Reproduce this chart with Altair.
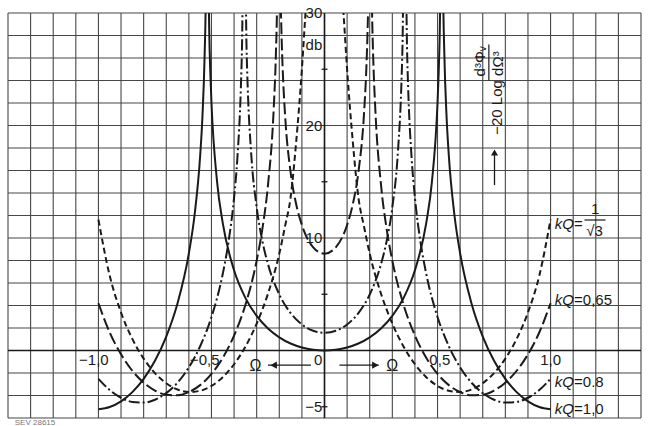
import altair as alt
import pandas as pd

# Normalised detuning Ω and -20·log|d³Φv/dΩ³| in dB, one pair of lists per kQ
omega_kq_10 = [-1.0, -0.95, -0.9, -0.85, -0.8, -0.75, -0.7, -0.65, -0.6, -0.575, -0.55, -0.54,
               -0.53, -0.525, -0.52, -0.515, -0.51, -0.505, -0.5, -0.475, -0.45, -0.4, -0.35,
               -0.3, -0.25, -0.2, -0.15, -0.1, -0.05, 0.0, 0.05, 0.1, 0.15, 0.2, 0.25, 0.3,
               0.35, 0.4, 0.45, 0.475, 0.5, 0.505, 0.51, 0.515, 0.52, 0.525, 0.53, 0.54, 0.55,
               0.575, 0.6, 0.65, 0.7, 0.75, 0.8, 0.85, 0.9, 0.95, 1.0]
db_kq_10 = [-5.22, -5.02, -4.52, -3.7, -2.52, -0.91, 1.24, 4.2, 8.63, 12.0, 17.31, 20.76,
            26.44, 31.69, 46.8, 35.57, 28.49, 24.67, 22.05, 14.97, 11.32, 7.13, 4.68,
            3.07, 1.95, 1.17, 0.62, 0.27, 0.07, 0.0, 0.07, 0.27, 0.62, 1.17, 1.95, 3.07,
            4.68, 7.13, 11.32, 14.97, 22.05, 24.67, 28.49, 35.57, 46.8, 31.69, 26.44, 20.76, 17.31,
            12.0, 8.63, 4.2, 1.24, -0.91, -2.52, -3.7, -4.52, -5.02, -5.22]

omega_kq_08 = [-1.0, -0.95, -0.9, -0.85, -0.8, -0.75, -0.7, -0.65, -0.6, -0.55, -0.5, -0.45,
               -0.425, -0.4, -0.385, -0.37, -0.365, -0.36, -0.35, -0.345, -0.34, -0.325, -0.3,
               -0.275, -0.25, -0.2, -0.15, -0.1, -0.05, 0.0, 0.05, 0.1, 0.15, 0.2, 0.25, 0.275,
               0.3, 0.325, 0.34, 0.345, 0.35, 0.36, 0.365, 0.37, 0.385, 0.4, 0.425, 0.45, 0.5,
               0.55, 0.6, 0.65, 0.7, 0.75, 0.8, 0.85, 0.9, 0.95, 1.0]
db_kq_08 = [-2.52, -3.52, -4.2, -4.57, -4.63, -4.38, -3.79, -2.86, -1.5, 0.38, 2.98, 6.82,
            9.6, 13.59, 17.22, 23.36, 26.92, 33.0, 33.04, 27.07, 23.6, 17.72, 12.72,
            9.74, 7.68, 4.98, 3.33, 2.31, 1.75, 1.57, 1.75, 2.31, 3.33, 4.98, 7.68, 9.74,
            12.72, 17.72, 23.6, 27.07, 33.04, 33.0, 26.92, 23.36, 17.22, 13.59, 9.6, 6.82, 2.98,
            0.38, -1.5, -2.86, -3.79, -4.38, -4.63, -4.57, -4.2, -3.52, -2.52]

omega_kq_065 = [-1.0, -0.95, -0.9, -0.85, -0.8, -0.75, -0.7, -0.65, -0.6, -0.55, -0.5, -0.45,
                -0.4, -0.35, -0.3, -0.275, -0.25, -0.225, -0.215, -0.21, -0.205, -0.2, -0.195,
                -0.19, -0.185, -0.175, -0.15, -0.125, -0.1, -0.05, 0.0, 0.05, 0.1, 0.125, 0.15,
                0.175, 0.185, 0.19, 0.195, 0.2, 0.205, 0.21, 0.215, 0.225, 0.25, 0.275, 0.3,
                0.35, 0.4, 0.45, 0.5, 0.55, 0.6, 0.65, 0.7, 0.75, 0.8, 0.85, 0.9, 0.95, 1.0]
db_kq_065 = [4.2, 1.6, -0.34, -1.8, -2.86, -3.56, -3.93, -3.98, -3.7, -3.08, -2.08, -0.65,
             1.33, 4.05, 7.99, 10.79, 14.71, 21.36, 26.34, 30.46, 38.33, 45.3, 32.91,
             28.07, 25.03, 21.12, 15.86, 12.98, 11.16, 9.17, 8.6, 9.17, 11.16, 12.98, 15.86,
             21.12, 25.03, 28.07, 32.91, 45.3, 38.33, 30.46, 26.34, 21.36, 14.71, 10.79, 7.99,
             4.05, 1.33, -0.65, -2.08, -3.08, -3.7, -3.98, -3.93, -3.56, -2.86, -1.8, -0.34, 1.6, 4.2]

omega_kq_r3 = [-1.0, -0.95, -0.9, -0.85, -0.8, -0.75, -0.7, -0.65, -0.6, -0.55, -0.5, -0.45,
               -0.4, -0.35, -0.3, -0.25, -0.2, -0.175, -0.15, -0.125, -0.1, -0.085, -0.07,
               0.07, 0.085, 0.1, 0.125, 0.15, 0.175, 0.2, 0.25, 0.3, 0.35,
               0.4, 0.45, 0.5, 0.55, 0.6, 0.65, 0.7, 0.75, 0.8, 0.85, 0.9, 0.95, 1.0]
db_kq_r3 = [11.63, 6.64, 3.38, 1.03, -0.72, -2.01, -2.91, -3.47, -3.69, -3.58, -3.15, -2.37,
            -1.22, 0.34, 2.39, 5.05, 8.6, 11.0, 13.6, 18.6, 25.0, 29.7, 34.0,
            34.0, 29.7, 25.0, 18.6, 13.6, 11.0, 8.6, 5.05, 2.39, 0.34,
            -1.22, -2.37, -3.15, -3.58, -3.69, -3.47, -2.91, -2.01, -0.72, 1.03, 3.38, 6.64, 11.63]

# Tick labels on the two central axes
x_tick_values = [-1.0, -0.5, 0.5, 1.0]
x_tick_labels = ["−1,0", "−0,5", "0,5", "1,0"]
y_tick_values = [30, 20, 10, -5]
y_tick_labels = ["30", "20", "10", "−5"]

INK = "#1a1a1a"
GRID = "#474747"
FONT = "Liberation Sans"

xs = alt.Scale(domain=[-1.4, 1.4], nice=False, zero=False)
ys = alt.Scale(domain=[-6, 30], nice=False, zero=False)


def X(field):
    return alt.X(field, type="quantitative", scale=xs, axis=None)


def Y(field):
    return alt.Y(field, type="quantitative", scale=ys, axis=None)


# Millimetre-paper style grid: 0.1 in Ω, 2 dB vertically
grid_x = pd.DataFrame({"v": [round(i / 10, 1) for i in range(-14, 15)]})
grid_y = pd.DataFrame({"v": list(range(-6, 31, 2))})
layers = [
    alt.Chart(grid_x).mark_rule(color=GRID, strokeWidth=1.1).encode(x=X("v")),
    alt.Chart(grid_y).mark_rule(color=GRID, strokeWidth=1.1).encode(y=Y("v")),
    alt.Chart(pd.DataFrame({"v": [0.0]})).mark_rule(color=INK, strokeWidth=1.6).encode(x=X("v")),
    alt.Chart(pd.DataFrame({"v": [0.0]})).mark_rule(color=INK, strokeWidth=1.6).encode(y=Y("v")),
]

# small ticks on the dB axis between the grid lines
ticks = pd.DataFrame({"y": [-5, 5, 15, 25], "x1": -0.013, "x2": 0.013})
layers.append(alt.Chart(ticks).mark_rule(color=INK, strokeWidth=1.3).encode(
    x=X("x1"), x2="x2", y=Y("y")))

# the four curves
curves = [
    (omega_kq_10, db_kq_10, None),
    (omega_kq_08, db_kq_08, [11, 3, 2, 3]),
    (omega_kq_065, db_kq_065, [12, 4]),
    (omega_kq_r3, db_kq_r3, [6, 3.5]),
]
for om, db, dash in curves:
    df = pd.DataFrame({"omega": om, "db": db})
    kw = dict(color=INK, strokeWidth=2.0, clip=True, interpolate="monotone")
    if dash:
        kw["strokeDash"] = dash
    layers.append(alt.Chart(df).mark_line(**kw).encode(x=X("omega"), y=Y("db"), order="omega:Q"))


def text_layer(df, **kw):
    base = dict(font=FONT, color=INK, fontSize=15, baseline="middle")
    base.update(kw)
    return alt.Chart(df).mark_text(**base).encode(x=X("x"), y=Y("y"), text="t:N")


# axis labels
layers.append(text_layer(pd.DataFrame({"x": -0.01, "y": y_tick_values, "t": y_tick_labels}), align="right"))
layers.append(text_layer(pd.DataFrame({"x": [-0.01, -0.01], "y": [27.2, -0.85], "t": ["db", "0"]}), align="right"))
layers.append(text_layer(pd.DataFrame({"x": [-1.02, -0.53, 0.51, 1.0], "y": -0.85, "t": x_tick_labels}), align="center"))

# Ω direction arrows
layers.append(text_layer(pd.DataFrame({"x": [-0.305, 0.3], "y": -1.35, "t": ["Ω", "Ω"]}), align="center", fontSize=16))
arrows = pd.DataFrame({"x1": [-0.25, 0.066], "x2": [-0.06, 0.24], "y": -1.3})
layers.append(alt.Chart(arrows).mark_rule(color=INK, strokeWidth=1.3).encode(x=X("x1"), x2="x2", y=Y("y")))
layers.append(alt.Chart(pd.DataFrame({"x": [-0.225], "y": [-1.3]})).mark_point(
    shape="triangle-left", filled=True, color=INK, size=55, opacity=1).encode(x=X("x"), y=Y("y")))
layers.append(alt.Chart(pd.DataFrame({"x": [0.225], "y": [-1.3]})).mark_point(
    shape="triangle-right", filled=True, color=INK, size=55, opacity=1).encode(x=X("x"), y=Y("y")))

# vertical quantity label  −20 Log d³Φv/dΩ³  with upward arrow
layers.append(text_layer(pd.DataFrame({"x": [0.765], "y": [21.6], "t": ["−20 Log"]}), align="center", angle=270, fontSize=15))
layers.append(text_layer(pd.DataFrame({"x": [0.69], "y": [25.7], "t": ["d³Φᵥ"]}), align="center", angle=270, fontSize=15))
layers.append(text_layer(pd.DataFrame({"x": [0.767], "y": [25.5], "t": ["dΩ³"]}), align="center", angle=270, fontSize=15))
layers.append(alt.Chart(pd.DataFrame({"x": [0.727], "y1": [24.0], "y2": [27.2]})).mark_rule(
    color=INK, strokeWidth=1.2).encode(x=X("x"), y=Y("y1"), y2="y2"))
layers.append(alt.Chart(pd.DataFrame({"x": [0.752], "y1": [14.7], "y2": [17.4]})).mark_rule(
    color=INK, strokeWidth=1.3).encode(x=X("x"), y=Y("y1"), y2="y2"))
layers.append(alt.Chart(pd.DataFrame({"x": [0.752], "y": [17.6]})).mark_point(
    shape="triangle-up", filled=True, color=INK, size=50, opacity=1).encode(x=X("x"), y=Y("y")))

# curve labels
kq_y = [11.24, 4.49, -2.8, -5.2]
layers.append(text_layer(pd.DataFrame({"x": 1.018, "y": kq_y, "t": "kQ"}), align="left", fontStyle="italic"))
layers.append(text_layer(pd.DataFrame({"x": 1.104, "y": kq_y, "t": ["=", "=0,65", "=0.8", "=1,0"]}), align="left"))
layers.append(text_layer(pd.DataFrame({"x": [1.197, 1.195], "y": [12.58, 10.62], "t": ["1", "√3"]}), align="center"))
layers.append(alt.Chart(pd.DataFrame({"x1": [1.15], "x2": [1.243], "y": [11.6]})).mark_rule(
    color=INK, strokeWidth=1.2).encode(x=X("x1"), x2="x2", y=Y("y")))

# figure reference number
layers.append(text_layer(pd.DataFrame({"x": [-1.37], "y": [-6.05], "t": ["SEV 28615"]}),
                         align="left", baseline="top", fontSize=8, color="#777"))

chart = alt.layer(*layers).properties(
    width=633, height=405,
    padding={"left": 8, "top": 13, "right": 13, "bottom": 8},
    autosize=alt.AutoSizeParams(type="none"),
    background="white",
).configure_view(stroke=None)

chart.save("out.html", embed_options={"renderer": "svg", "actions": False})
